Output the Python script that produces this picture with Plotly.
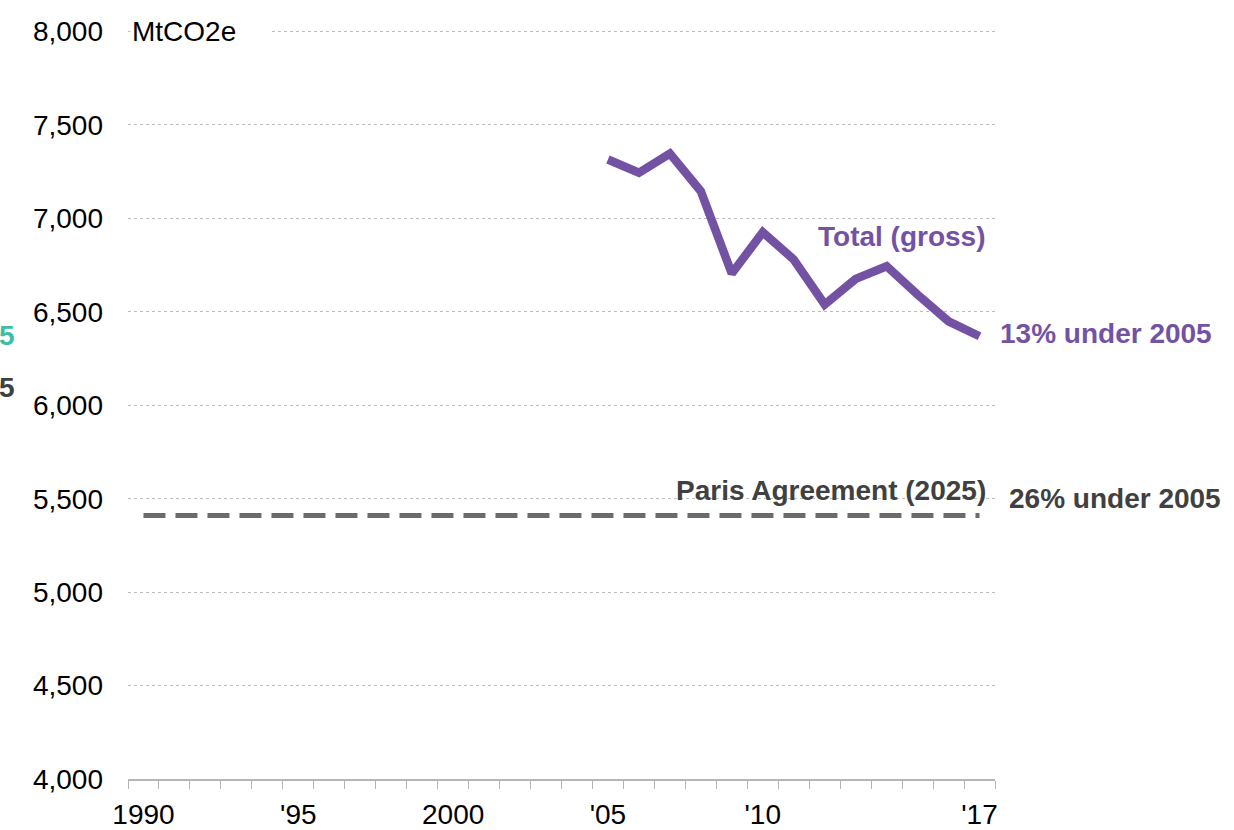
import plotly.graph_objects as go

years = [2005, 2006, 2007, 2008, 2009, 2010, 2011, 2012, 2013, 2014, 2015, 2016, 2017]
total_gross = [7315, 7244, 7347, 7145, 6705, 6926, 6780, 6539, 6676, 6744, 6592, 6449, 6369]

paris_years = [1990, 2017]
paris_target = [5410, 5410]

x_tick_vals = [1990, 1995, 2000, 2005, 2010, 2017]
x_tick_text = ["1990", "'95", "2000", "'05", "'10", "'17"]
y_tick_vals = [4000, 4500, 5000, 5500, 6000, 6500, 7000, 7500, 8000]
y_tick_text = ["4,000", "4,500", "5,000", "5,500", "6,000", "6,500", "7,000", "7,500", "8,000"]

PURPLE = "#7452A3"
DARK = "#404040"
DASH = "#6b6b6b"
TEAL = "#3cbfa5"
FONT = "Liberation Sans, Arial, sans-serif"

fig = go.Figure()
fig.add_trace(go.Scatter(x=paris_years, y=paris_target, mode="lines",
                         line=dict(color=DASH, width=5, dash="22px,10px"),
                         hoverinfo="skip", showlegend=False))
fig.add_trace(go.Scatter(x=years, y=total_gross, mode="lines",
                         line=dict(color=PURPLE, width=8.5),
                         showlegend=False))

LEFT_EDGE = -128 / 867  # paper x of the picture's left edge

ann = []
ann.append(dict(x=0, y=8000, xref="paper", yref="y", text="MtCO2e", showarrow=False,
                xanchor="left", yanchor="middle", align="left", width=138, bgcolor="white",
                xshift=2, font=dict(size=28, color="black", family=FONT)))
ann.append(dict(x=2017.5, y=6905, xref="x", yref="y", text="<b>Total (gross)</b>", showarrow=False,
                xanchor="right", yanchor="middle", xshift=-8, font=dict(size=28, color=PURPLE, family=FONT)))
ann.append(dict(x=2017, y=6385, xref="x", yref="y", text="<b>13% under 2005</b>", showarrow=False,
                xanchor="left", yanchor="middle", xshift=18, font=dict(size=28, color=PURPLE, family=FONT)))
ann.append(dict(x=2017.5, y=5543, xref="x", yref="y", text="<b>Paris Agreement (2025)</b>", showarrow=False,
                xanchor="right", yanchor="middle", xshift=-7, font=dict(size=28, color=DARK, family=FONT)))
ann.append(dict(x=2017.5, y=5500, xref="x", yref="y", text="<b>26% under 2005</b>", showarrow=False,
                xanchor="left", yanchor="middle", xshift=12, font=dict(size=28, color=DARK, family=FONT)))
# fragments of labels at the left edge of the picture
ann.append(dict(x=LEFT_EDGE, y=6372, xref="paper", yref="y", text="<b>5</b>", showarrow=False,
                xanchor="left", yanchor="middle", xshift=-3, font=dict(size=28, color=TEAL, family=FONT)))
ann.append(dict(x=LEFT_EDGE, y=6094, xref="paper", yref="y", text="<b>5</b>", showarrow=False,
                xanchor="left", yanchor="middle", xshift=-3, font=dict(size=28, color=DARK, family=FONT)))

fig.update_layout(
    width=1234, height=830,
    margin=dict(l=128, r=239, t=30, b=51),
    paper_bgcolor="white", plot_bgcolor="white",
    font=dict(family=FONT, size=28, color="black"),
    annotations=ann,
    showlegend=False,
)
fig.update_xaxes(range=[1989.5, 2017.5], tickmode="array", tickvals=x_tick_vals, ticktext=x_tick_text,
                 ticks="outside", ticklen=10, tickcolor="rgba(0,0,0,0)",
                 showline=True, linecolor="#b5b5b5", linewidth=1.5,
                 showgrid=False, zeroline=False, automargin=False,
                 minor=dict(tick0=1989.5, dtick=1, ticks="outside", ticklen=8, tickcolor="#b5b5b5",
                            tickwidth=1.2, showgrid=False),
                 tickfont=dict(size=28, color="black"))
fig.update_yaxes(range=[4000, 8008], tickmode="array", tickvals=y_tick_vals, ticktext=y_tick_text,
                 showgrid=True, gridcolor="#bdbdbd", gridwidth=1, griddash="dot",
                 zeroline=False, showline=False, ticks="", ticklabelstandoff=24, automargin=False,
                 tickfont=dict(size=28, color="black"))

fig.write_html("out.html", config={"displayModeBar": False},
               post_script="document.body.style.margin='0';")
